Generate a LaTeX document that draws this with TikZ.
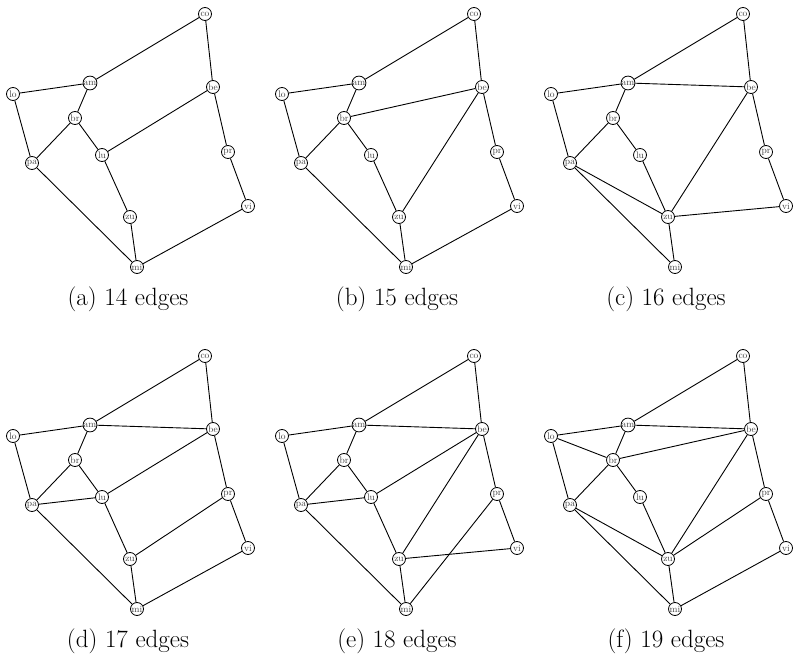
\documentclass[tikz,border=0pt]{standalone}
\begin{document}
\begin{tikzpicture}[x=1pt,y=-1pt,
  vtx/.style={draw, circle, line width=0.8pt, inner sep=0.2pt, minimum size=13pt,
    font=\fontsize{9.5}{10}\selectfont, text=black!75},
  edge/.style={line width=0.9pt},
  captext/.style={font=\fontsize{25}{30}\selectfont, inner sep=0pt}]
\useasboundingbox (0,0) rectangle (795,660);
\newcommand\graphnodes{%
  \node[vtx] (co) at (205,14) {co};
  \node[vtx] (am) at (90,83) {am};
  \node[vtx] (lo) at (13,94) {lo};
  \node[vtx] (be) at (213,87) {be};
  \node[vtx] (br) at (75,118) {br};
  \node[vtx] (lu) at (102,155) {lu};
  \node[vtx] (pa) at (32,163) {pa};
  \node[vtx] (pr) at (228,152) {pr};
  \node[vtx] (zu) at (130,217) {zu};
  \node[vtx] (vi) at (248,206) {vi};
  \node[vtx] (mi) at (137,267) {mi};
}
\newcommand\drawpanel[5]{%
  \begin{scope}[shift={(#2,#3)}, name prefix=#1-]
    \graphnodes
    \foreach \u/\v in {#4} \draw[edge] (\u) -- (\v);
    \node[captext] (cap) at (128,299) {#5};
  \end{scope}
}
\drawpanel{a}{0}{0}{co/am,co/be,lo/am,lo/pa,am/br,br/pa,br/lu,lu/be,lu/zu,be/pr,pr/vi,zu/mi,pa/mi,vi/mi}{(a) 14 edges}
\drawpanel{b}{269}{0}{co/am,co/be,lo/am,lo/pa,am/br,br/be,br/pa,br/lu,lu/zu,be/zu,be/pr,pr/vi,pa/mi,zu/mi,vi/mi}{(b) 15 edges}
\drawpanel{c}{538}{0}{co/am,co/be,lo/am,am/be,lo/pa,am/br,br/pa,br/lu,lu/zu,be/zu,be/pr,pr/vi,pa/zu,pa/mi,zu/vi,zu/mi}{(c) 16 edges}
\drawpanel{d}{0}{342}{co/am,co/be,lo/am,am/be,lo/pa,am/br,br/pa,br/lu,pa/lu,lu/be,lu/zu,be/pr,pr/zu,pr/vi,vi/mi,zu/mi,pa/mi}{(d) 17 edges}
\drawpanel{e}{269}{342}{co/am,co/be,lo/am,am/be,lo/pa,am/br,br/pa,br/lu,pa/lu,lu/be,lu/zu,be/zu,be/pr,pr/vi,pr/mi,zu/vi,zu/mi,pa/mi}{(e) 18 edges}
\drawpanel{f}{538}{342}{co/am,co/be,lo/am,am/be,lo/br,lo/pa,am/br,br/be,br/pa,br/lu,lu/zu,be/zu,be/pr,pr/vi,pr/zu,pa/zu,pa/mi,zu/mi,vi/mi}{(f) 19 edges}
\end{tikzpicture}
\end{document}
